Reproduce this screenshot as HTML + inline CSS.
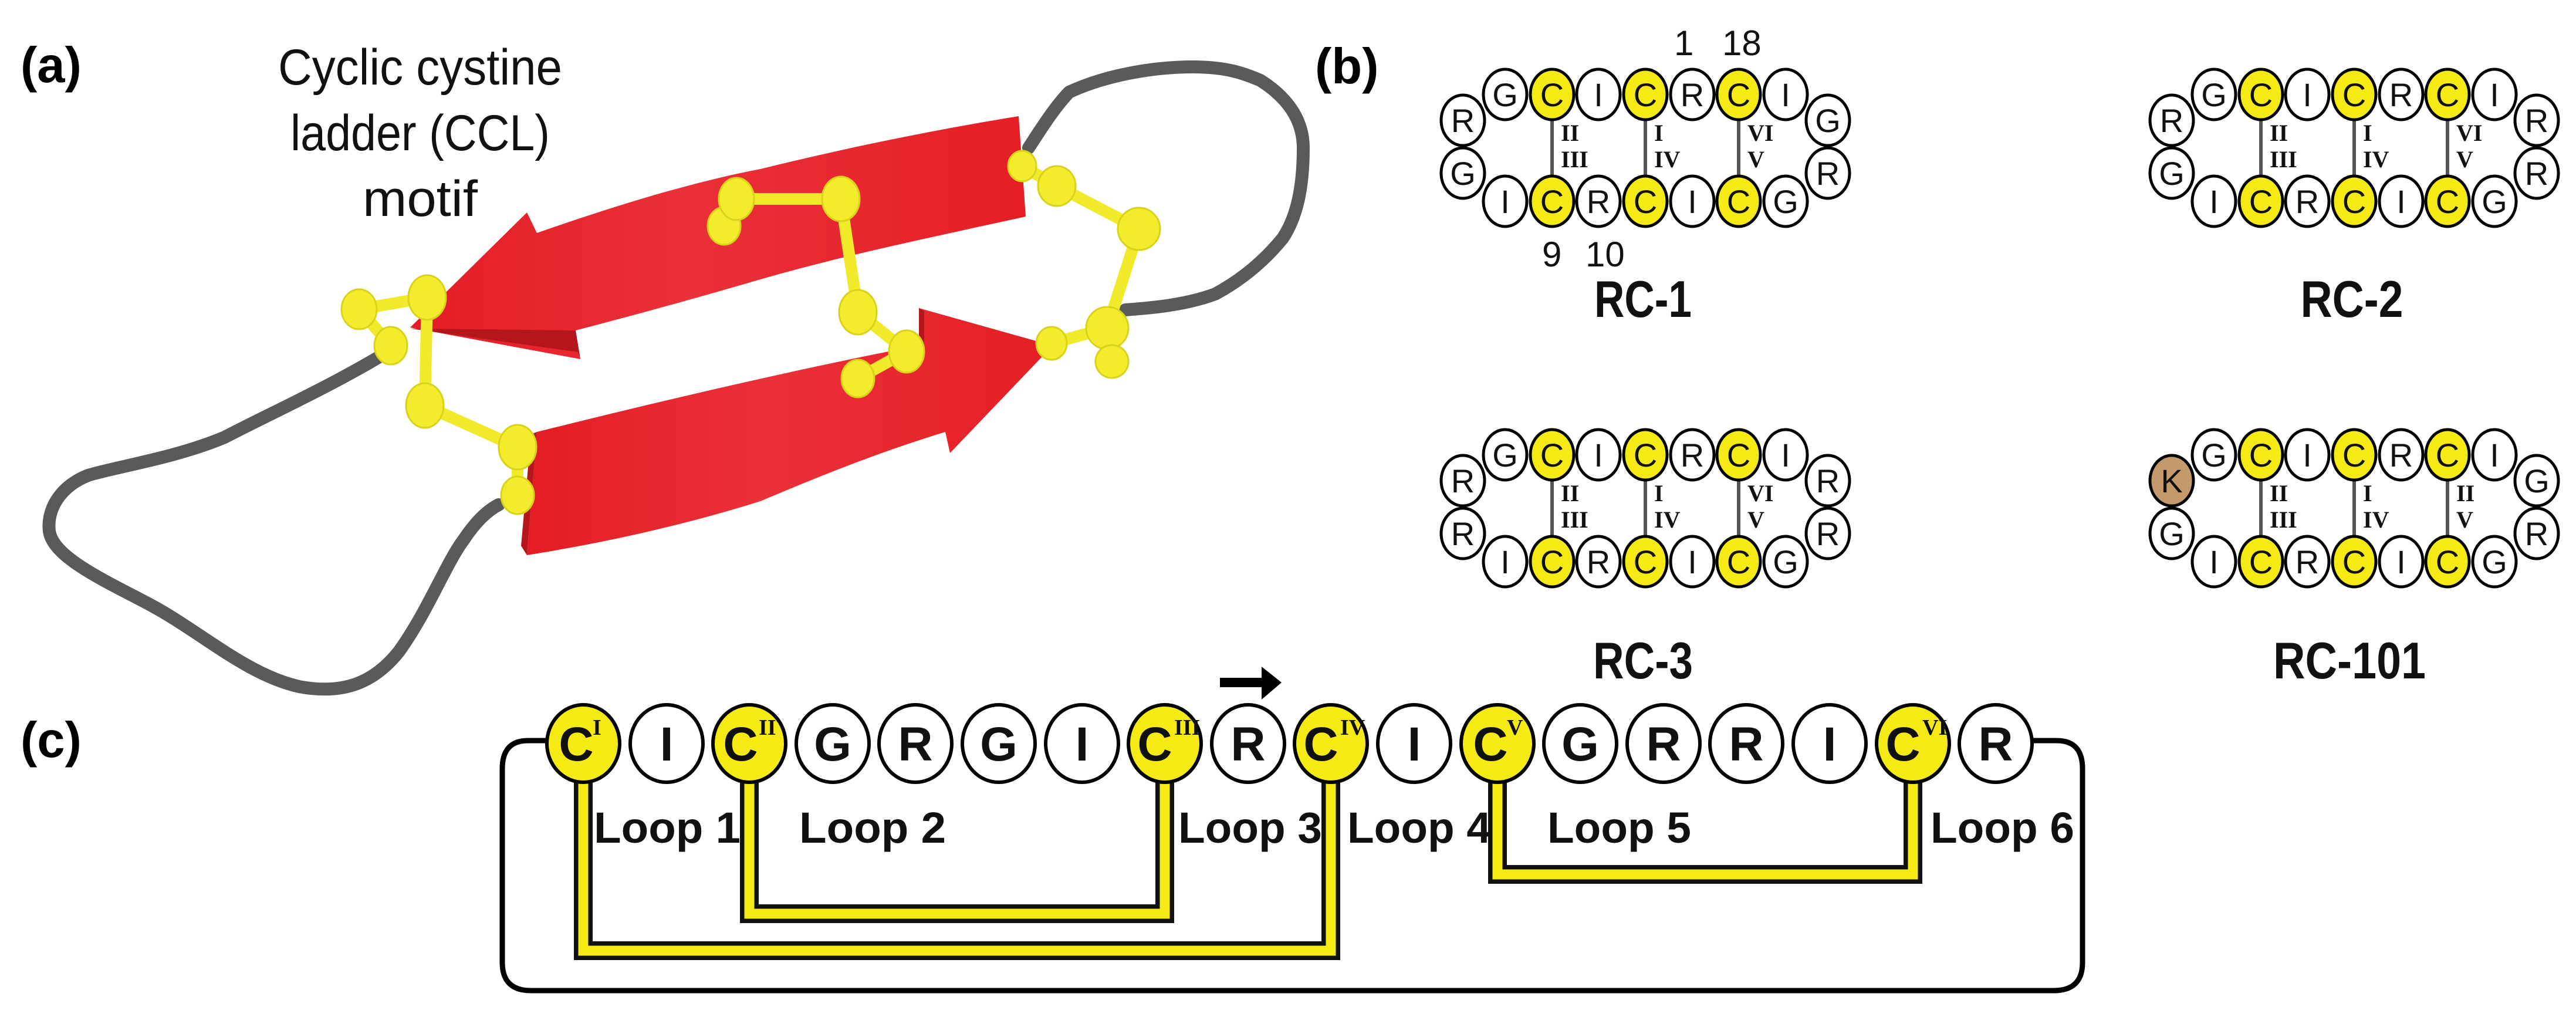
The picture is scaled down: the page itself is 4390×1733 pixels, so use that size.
<!DOCTYPE html>
<html><head><meta charset="utf-8"><style>html,body{margin:0;padding:0;background:#fff}svg{display:block}</style></head><body>
<svg xmlns="http://www.w3.org/2000/svg" width="4390" height="1733" viewBox="0 0 4390 1733">
<defs>
<linearGradient id="rg" x1="0" y1="0" x2="1" y2="0"><stop offset="0" stop-color="#e41c24"/><stop offset="0.45" stop-color="#ea3038"/><stop offset="1" stop-color="#e51e25"/></linearGradient>
</defs>
<!-- (a) -->
<text x="35" y="140" font-family="Liberation Sans" font-weight="bold" font-size="85">(a)</text>
<g font-family="Liberation Sans Narrow, Liberation Sans, sans-serif" font-size="86" text-anchor="middle" fill="#111">
<text x="716" y="144" textLength="484" lengthAdjust="spacingAndGlyphs">Cyclic cystine</text>
<text x="716" y="256" textLength="442" lengthAdjust="spacingAndGlyphs">ladder (CCL)</text>
<text x="716" y="368" textLength="196" lengthAdjust="spacingAndGlyphs">motif</text>
</g>
<g fill="none" stroke="#5a5a5a" stroke-width="22" stroke-linecap="round" stroke-linejoin="round">
<path d="M660 600 C560 660 470 700 383 745 C300 780 200 795 150 810 C100 830 80 870 84 905 C90 950 180 990 255 1030 C340 1075 420 1150 510 1170 C590 1185 640 1160 680 1110 C730 1040 760 960 790 920 C810 890 830 870 850 860"/>
<path d="M1753 252 C1780 210 1800 180 1822 157 C1880 130 1960 114 2033 114 C2090 114 2120 125 2148 137 C2200 170 2221 210 2221 252 C2221 320 2210 370 2186 406 C2150 450 2110 480 2071 501 C2020 520 1960 525 1918 528"/>
</g>
<!-- top sheet (left arrow) -->
<path d="M1736 198 L1748 369 C1560 410 1420 440 1296 476 C1180 510 1070 540 981 563 L989 612 L699 558 L898 362 L915 397 C1050 350 1180 310 1296 288 C1450 250 1600 220 1736 198 Z" fill="url(#rg)"/>
<path d="M981 563 L989 612 L985 600 L700 560 Z" fill="#b5161c"/>
<!-- bottom sheet (right arrow) -->
<path d="M915 736 C1100 690 1350 630 1566 589 L1566 525 L1794 589 L1619 772 L1611 736 C1500 770 1400 810 1296 854 C1150 900 1000 930 898 946 Z" fill="url(#rg)"/>
<path d="M898 946 L915 736 L905 740 L888 930 Z" fill="#b5161c"/>
<path d="M1566 525 L1566 589 L1575 590 L1575 530 Z" fill="#b5161c"/>
<!-- disulfides -->
<g stroke="#f0ea2a" stroke-width="20" stroke-linecap="round" fill="none">
<path d="M612 527 L728 507 L724 691 L882 762 L882 844 M612 527 L666 589"/>
<path d="M1234 385 L1255 339 L1433 339 L1462 532 L1545 599 L1462 645"/>
<path d="M1742 283 L1801 317 L1941 390 L1887 559 L1895 616 M1887 559 L1792 585"/>
</g>
<g fill="#f2ec2c" stroke="#d8d21a" stroke-width="3">
<ellipse cx="612" cy="527" rx="30" ry="34"/><ellipse cx="728" cy="507" rx="32" ry="38"/><ellipse cx="666" cy="589" rx="28" ry="32"/><ellipse cx="724" cy="691" rx="32" ry="38"/><ellipse cx="882" cy="762" rx="32" ry="38"/><ellipse cx="882" cy="844" rx="28" ry="32"/>
<ellipse cx="1234" cy="385" rx="28" ry="32"/><ellipse cx="1255" cy="339" rx="30" ry="36"/><ellipse cx="1433" cy="339" rx="32" ry="38"/><ellipse cx="1462" cy="532" rx="32" ry="38"/><ellipse cx="1545" cy="599" rx="30" ry="36"/><ellipse cx="1462" cy="645" rx="28" ry="32"/>
<ellipse cx="1742" cy="283" rx="24" ry="26"/><ellipse cx="1801" cy="317" rx="32" ry="34"/><ellipse cx="1941" cy="390" rx="36" ry="36"/><ellipse cx="1887" cy="559" rx="36" ry="36"/><ellipse cx="1895" cy="616" rx="28" ry="28"/><ellipse cx="1792" cy="585" rx="26" ry="28"/>
</g>

<!-- (b) -->
<text x="2241" y="142" font-family="Liberation Sans" font-weight="bold" font-size="85">(b)</text>
<g font-family="Liberation Sans Narrow, Liberation Sans, sans-serif" font-size="60" fill="#111">
<text x="2853" y="94">1</text><text x="2935" y="94">18</text>
<text x="2628" y="454">9</text><text x="2702" y="454">10</text>
</g>
<g font-family="Liberation Sans Narrow, Liberation Sans, sans-serif" font-weight="bold" font-size="88" text-anchor="middle" fill="#111">
<text x="2800" y="540" textLength="166" lengthAdjust="spacingAndGlyphs">RC-1</text>
<text x="4008" y="540" textLength="175" lengthAdjust="spacingAndGlyphs">RC-2</text>
<text x="2800" y="1156" textLength="170" lengthAdjust="spacingAndGlyphs">RC-3</text>
<text x="4004" y="1156" textLength="260" lengthAdjust="spacingAndGlyphs">RC-101</text>
</g>

<!-- RC-1 -->
<g>
<g stroke="#555" stroke-width="6"><line x1="2645" y1="200" x2="2645" y2="302"/><line x1="2804" y1="200" x2="2804" y2="302"/><line x1="2963" y1="200" x2="2963" y2="302"/></g>
<g stroke="#000" stroke-width="5" fill="#fff">
<ellipse cx="2493" cy="205" rx="37" ry="43"/><ellipse cx="2493" cy="295" rx="37" ry="43"/><ellipse cx="3115" cy="205" rx="37" ry="43"/><ellipse cx="3115" cy="295" rx="37" ry="43"/>
<ellipse cx="2565" cy="161" rx="37" ry="43"/><ellipse cx="2645" cy="161" rx="37" ry="43" fill="#f5ea14"/><ellipse cx="2724" cy="161" rx="37" ry="43"/><ellipse cx="2804" cy="161" rx="37" ry="43" fill="#f5ea14"/><ellipse cx="2884" cy="161" rx="37" ry="43"/><ellipse cx="2963" cy="161" rx="37" ry="43" fill="#f5ea14"/><ellipse cx="3043" cy="161" rx="37" ry="43"/>
<ellipse cx="2565" cy="343" rx="37" ry="43"/><ellipse cx="2645" cy="343" rx="37" ry="43" fill="#f5ea14"/><ellipse cx="2724" cy="343" rx="37" ry="43"/><ellipse cx="2804" cy="343" rx="37" ry="43" fill="#f5ea14"/><ellipse cx="2884" cy="343" rx="37" ry="43"/><ellipse cx="2963" cy="343" rx="37" ry="43" fill="#f5ea14"/><ellipse cx="3043" cy="343" rx="37" ry="43"/>
</g>
<g font-family="Liberation Sans, sans-serif" font-size="56" text-anchor="middle" fill="#111">
<text x="2493" y="225">R</text><text x="2493" y="315">G</text><text x="3115" y="225">G</text><text x="3115" y="315">R</text>
<text x="2565" y="181">G</text><text x="2645" y="181">C</text><text x="2724" y="181">I</text><text x="2804" y="181">C</text><text x="2884" y="181">R</text><text x="2963" y="181">C</text><text x="3043" y="181">I</text>
<text x="2565" y="363">I</text><text x="2645" y="363">C</text><text x="2724" y="363">R</text><text x="2804" y="363">C</text><text x="2884" y="363">I</text><text x="2963" y="363">C</text><text x="3043" y="363">G</text>
</g>
<g font-family="Liberation Serif, serif" font-weight="bold" font-size="40" fill="#111">
<text x="2660" y="240">II</text><text x="2660" y="285">III</text><text x="2819" y="240">I</text><text x="2819" y="285">IV</text><text x="2978" y="240">VI</text><text x="2978" y="285">V</text>
</g>
</g>
<!-- RC-2 -->
<g transform="translate(1208,0)">
<g stroke="#555" stroke-width="6"><line x1="2645" y1="200" x2="2645" y2="302"/><line x1="2804" y1="200" x2="2804" y2="302"/><line x1="2963" y1="200" x2="2963" y2="302"/></g>
<g stroke="#000" stroke-width="5" fill="#fff">
<ellipse cx="2493" cy="205" rx="37" ry="43"/><ellipse cx="2493" cy="295" rx="37" ry="43"/><ellipse cx="3115" cy="205" rx="37" ry="43"/><ellipse cx="3115" cy="295" rx="37" ry="43"/>
<ellipse cx="2565" cy="161" rx="37" ry="43"/><ellipse cx="2645" cy="161" rx="37" ry="43" fill="#f5ea14"/><ellipse cx="2724" cy="161" rx="37" ry="43"/><ellipse cx="2804" cy="161" rx="37" ry="43" fill="#f5ea14"/><ellipse cx="2884" cy="161" rx="37" ry="43"/><ellipse cx="2963" cy="161" rx="37" ry="43" fill="#f5ea14"/><ellipse cx="3043" cy="161" rx="37" ry="43"/>
<ellipse cx="2565" cy="343" rx="37" ry="43"/><ellipse cx="2645" cy="343" rx="37" ry="43" fill="#f5ea14"/><ellipse cx="2724" cy="343" rx="37" ry="43"/><ellipse cx="2804" cy="343" rx="37" ry="43" fill="#f5ea14"/><ellipse cx="2884" cy="343" rx="37" ry="43"/><ellipse cx="2963" cy="343" rx="37" ry="43" fill="#f5ea14"/><ellipse cx="3043" cy="343" rx="37" ry="43"/>
</g>
<g font-family="Liberation Sans, sans-serif" font-size="56" text-anchor="middle" fill="#111">
<text x="2493" y="225">R</text><text x="2493" y="315">G</text><text x="3115" y="225">R</text><text x="3115" y="315">R</text>
<text x="2565" y="181">G</text><text x="2645" y="181">C</text><text x="2724" y="181">I</text><text x="2804" y="181">C</text><text x="2884" y="181">R</text><text x="2963" y="181">C</text><text x="3043" y="181">I</text>
<text x="2565" y="363">I</text><text x="2645" y="363">C</text><text x="2724" y="363">R</text><text x="2804" y="363">C</text><text x="2884" y="363">I</text><text x="2963" y="363">C</text><text x="3043" y="363">G</text>
</g>
<g font-family="Liberation Serif, serif" font-weight="bold" font-size="40" fill="#111">
<text x="2660" y="240">II</text><text x="2660" y="285">III</text><text x="2819" y="240">I</text><text x="2819" y="285">IV</text><text x="2978" y="240">VI</text><text x="2978" y="285">V</text>
</g>
</g>
<!-- RC-3 -->
<g transform="translate(0,614)">
<g stroke="#555" stroke-width="6"><line x1="2645" y1="200" x2="2645" y2="302"/><line x1="2804" y1="200" x2="2804" y2="302"/><line x1="2963" y1="200" x2="2963" y2="302"/></g>
<g stroke="#000" stroke-width="5" fill="#fff">
<ellipse cx="2493" cy="205" rx="37" ry="43"/><ellipse cx="2493" cy="295" rx="37" ry="43"/><ellipse cx="3115" cy="205" rx="37" ry="43"/><ellipse cx="3115" cy="295" rx="37" ry="43"/>
<ellipse cx="2565" cy="161" rx="37" ry="43"/><ellipse cx="2645" cy="161" rx="37" ry="43" fill="#f5ea14"/><ellipse cx="2724" cy="161" rx="37" ry="43"/><ellipse cx="2804" cy="161" rx="37" ry="43" fill="#f5ea14"/><ellipse cx="2884" cy="161" rx="37" ry="43"/><ellipse cx="2963" cy="161" rx="37" ry="43" fill="#f5ea14"/><ellipse cx="3043" cy="161" rx="37" ry="43"/>
<ellipse cx="2565" cy="343" rx="37" ry="43"/><ellipse cx="2645" cy="343" rx="37" ry="43" fill="#f5ea14"/><ellipse cx="2724" cy="343" rx="37" ry="43"/><ellipse cx="2804" cy="343" rx="37" ry="43" fill="#f5ea14"/><ellipse cx="2884" cy="343" rx="37" ry="43"/><ellipse cx="2963" cy="343" rx="37" ry="43" fill="#f5ea14"/><ellipse cx="3043" cy="343" rx="37" ry="43"/>
</g>
<g font-family="Liberation Sans, sans-serif" font-size="56" text-anchor="middle" fill="#111">
<text x="2493" y="225">R</text><text x="2493" y="315">R</text><text x="3115" y="225">R</text><text x="3115" y="315">R</text>
<text x="2565" y="181">G</text><text x="2645" y="181">C</text><text x="2724" y="181">I</text><text x="2804" y="181">C</text><text x="2884" y="181">R</text><text x="2963" y="181">C</text><text x="3043" y="181">I</text>
<text x="2565" y="363">I</text><text x="2645" y="363">C</text><text x="2724" y="363">R</text><text x="2804" y="363">C</text><text x="2884" y="363">I</text><text x="2963" y="363">C</text><text x="3043" y="363">G</text>
</g>
<g font-family="Liberation Serif, serif" font-weight="bold" font-size="40" fill="#111">
<text x="2660" y="240">II</text><text x="2660" y="285">III</text><text x="2819" y="240">I</text><text x="2819" y="285">IV</text><text x="2978" y="240">VI</text><text x="2978" y="285">V</text>
</g>
</g>
<!-- RC-101 -->
<g transform="translate(1208,614)">
<g stroke="#555" stroke-width="6"><line x1="2645" y1="200" x2="2645" y2="302"/><line x1="2804" y1="200" x2="2804" y2="302"/><line x1="2963" y1="200" x2="2963" y2="302"/></g>
<g stroke="#000" stroke-width="5" fill="#fff">
<ellipse cx="2493" cy="205" rx="37" ry="43" fill="#c49a6c"/><ellipse cx="2493" cy="295" rx="37" ry="43"/><ellipse cx="3115" cy="205" rx="37" ry="43"/><ellipse cx="3115" cy="295" rx="37" ry="43"/>
<ellipse cx="2565" cy="161" rx="37" ry="43"/><ellipse cx="2645" cy="161" rx="37" ry="43" fill="#f5ea14"/><ellipse cx="2724" cy="161" rx="37" ry="43"/><ellipse cx="2804" cy="161" rx="37" ry="43" fill="#f5ea14"/><ellipse cx="2884" cy="161" rx="37" ry="43"/><ellipse cx="2963" cy="161" rx="37" ry="43" fill="#f5ea14"/><ellipse cx="3043" cy="161" rx="37" ry="43"/>
<ellipse cx="2565" cy="343" rx="37" ry="43"/><ellipse cx="2645" cy="343" rx="37" ry="43" fill="#f5ea14"/><ellipse cx="2724" cy="343" rx="37" ry="43"/><ellipse cx="2804" cy="343" rx="37" ry="43" fill="#f5ea14"/><ellipse cx="2884" cy="343" rx="37" ry="43"/><ellipse cx="2963" cy="343" rx="37" ry="43" fill="#f5ea14"/><ellipse cx="3043" cy="343" rx="37" ry="43"/>
</g>
<g font-family="Liberation Sans, sans-serif" font-size="56" text-anchor="middle" fill="#111">
<text x="2493" y="225">K</text><text x="2493" y="315">G</text><text x="3115" y="225">G</text><text x="3115" y="315">R</text>
<text x="2565" y="181">G</text><text x="2645" y="181">C</text><text x="2724" y="181">I</text><text x="2804" y="181">C</text><text x="2884" y="181">R</text><text x="2963" y="181">C</text><text x="3043" y="181">I</text>
<text x="2565" y="363">I</text><text x="2645" y="363">C</text><text x="2724" y="363">R</text><text x="2804" y="363">C</text><text x="2884" y="363">I</text><text x="2963" y="363">C</text><text x="3043" y="363">G</text>
</g>
<g font-family="Liberation Serif, serif" font-weight="bold" font-size="40" fill="#111">
<text x="2660" y="240">II</text><text x="2660" y="285">III</text><text x="2819" y="240">I</text><text x="2819" y="285">IV</text><text x="2978" y="240">II</text><text x="2978" y="285">V</text>
</g>
</g>

<!-- (c) -->
<text x="35" y="1290" font-family="Liberation Sans" font-weight="bold" font-size="85">(c)</text>
<path d="M932 1262 H900 Q856 1262 856 1310 V1640 Q856 1688 905 1688 H3500 Q3549 1688 3549 1640 V1310 Q3549 1262 3505 1262 H3465" fill="none" stroke="#000" stroke-width="9"/>
<g fill="none" stroke-linejoin="miter">
<path d="M994 1320 V1620 H2268 V1320" stroke="#111" stroke-width="32"/>
<path d="M994 1320 V1620 H2268 V1320" stroke="#f5ea14" stroke-width="17"/>
<path d="M1277 1320 V1557 H1985 V1320" stroke="#111" stroke-width="32"/>
<path d="M1277 1320 V1557 H1985 V1320" stroke="#f5ea14" stroke-width="17"/>
<path d="M2552 1320 V1490 H3260 V1320" stroke="#111" stroke-width="32"/>
<path d="M2552 1320 V1490 H3260 V1320" stroke="#f5ea14" stroke-width="17"/>
</g>
<g stroke="#000" stroke-width="6" fill="#fff">
<ellipse cx="994" cy="1267" rx="62" ry="66" fill="#f5ea14"/><ellipse cx="1136" cy="1267" rx="62" ry="66"/><ellipse cx="1277" cy="1267" rx="62" ry="66" fill="#f5ea14"/><ellipse cx="1419" cy="1267" rx="62" ry="66"/><ellipse cx="1560" cy="1267" rx="62" ry="66"/><ellipse cx="1702" cy="1267" rx="62" ry="66"/><ellipse cx="1844" cy="1267" rx="62" ry="66"/><ellipse cx="1985" cy="1267" rx="62" ry="66" fill="#f5ea14"/><ellipse cx="2127" cy="1267" rx="62" ry="66"/><ellipse cx="2268" cy="1267" rx="62" ry="66" fill="#f5ea14"/><ellipse cx="2410" cy="1267" rx="62" ry="66"/><ellipse cx="2552" cy="1267" rx="62" ry="66" fill="#f5ea14"/><ellipse cx="2693" cy="1267" rx="62" ry="66"/><ellipse cx="2835" cy="1267" rx="62" ry="66"/><ellipse cx="2976" cy="1267" rx="62" ry="66"/><ellipse cx="3118" cy="1267" rx="62" ry="66"/><ellipse cx="3260" cy="1267" rx="62" ry="66" fill="#f5ea14"/><ellipse cx="3401" cy="1267" rx="62" ry="66"/>
</g>
<g font-family="Liberation Sans, sans-serif" font-weight="bold" font-size="82" text-anchor="middle" fill="#111">
<text x="982" y="1296">C</text><text x="1136" y="1296">I</text><text x="1262" y="1296">C</text><text x="1419" y="1296">G</text><text x="1560" y="1296">R</text><text x="1702" y="1296">G</text><text x="1844" y="1296">I</text><text x="1968" y="1296">C</text><text x="2127" y="1296">R</text><text x="2251" y="1296">C</text><text x="2410" y="1296">I</text><text x="2540" y="1296">C</text><text x="2693" y="1296">G</text><text x="2835" y="1296">R</text><text x="2976" y="1296">R</text><text x="3118" y="1296">I</text><text x="3243" y="1296">C</text><text x="3401" y="1296">R</text>
</g>
<g font-family="Liberation Serif, serif" font-weight="bold" font-size="38" fill="#111">
<text x="1010" y="1252">I</text><text x="1293" y="1252">II</text><text x="2001" y="1252">III</text><text x="2284" y="1252">IV</text><text x="2568" y="1252">V</text><text x="3276" y="1252">VI</text>
</g>
<line x1="2079" y1="1163" x2="2156" y2="1163" stroke="#000" stroke-width="16"/>
<polygon points="2150,1136 2184,1163 2150,1192" fill="#000"/>
<g font-family="Liberation Sans Narrow, Liberation Sans, sans-serif" font-weight="bold" font-size="74" fill="#111">
<text x="1012" y="1436" textLength="250" lengthAdjust="spacingAndGlyphs">Loop 1</text>
<text x="1362" y="1436" textLength="250" lengthAdjust="spacingAndGlyphs">Loop 2</text>
<text x="2008" y="1436" textLength="245" lengthAdjust="spacingAndGlyphs">Loop 3</text>
<text x="2296" y="1436" textLength="245" lengthAdjust="spacingAndGlyphs">Loop 4</text>
<text x="2637" y="1436" textLength="245" lengthAdjust="spacingAndGlyphs">Loop 5</text>
<text x="3290" y="1436" textLength="245" lengthAdjust="spacingAndGlyphs">Loop 6</text>
</g>
</svg>
</body></html>
